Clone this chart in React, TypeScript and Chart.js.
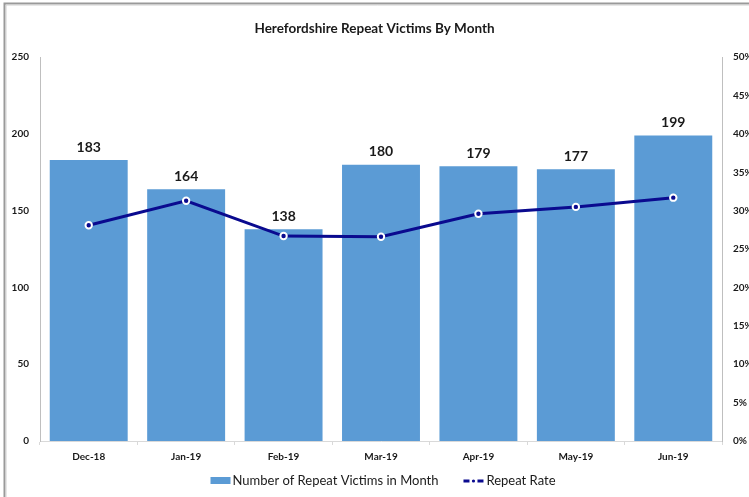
import React, { useEffect, useRef } from "react";
import { Chart, registerables } from "chart.js";

Chart.register(...registerables);

const TITLE = "Herefordshire Repeat Victims By Month";
const MONTHS = ["Dec-18", "Jan-19", "Feb-19", "Mar-19", "Apr-19", "May-19", "Jun-19"];
const VICTIMS = [183, 164, 138, 180, 179, 177, 199];
const REPEAT_RATE = [28.1, 31.3, 26.7, 26.6, 29.6, 30.5, 31.7];
const BAR_LABEL = "Number of Repeat Victims in Month";
const LINE_LABEL = "Repeat Rate";

const FONT = "Lato, 'Liberation Sans', sans-serif";
const BAR_COLOR = "#5B9BD5";
const LINE_COLOR = "#0A0A8F";
const TEXT_COLOR = "#1a1a1a";

const framePlugin = {
  id: "frame",
  beforeDraw(chart: any) {
    const ctx = chart.ctx;
    ctx.save();
    ctx.fillStyle = "#ffffff";
    ctx.fillRect(0, 0, chart.width, chart.height);
    ctx.strokeStyle = "#9a9a9a";
    ctx.lineWidth = 2;
    ctx.beginPath();
    ctx.moveTo(4.5, chart.height);
    ctx.lineTo(4.5, 3.5);
    ctx.lineTo(chart.width, 3.5);
    ctx.stroke();
    ctx.strokeStyle = "#d0d0d0";
    ctx.lineWidth = 1;
    ctx.beginPath();
    ctx.moveTo(6, chart.height);
    ctx.lineTo(6, 5);
    ctx.lineTo(chart.width, 5);
    ctx.stroke();
    ctx.restore();
  },
};

const barLabelPlugin = {
  id: "barLabels",
  afterDatasetsDraw(chart: any) {
    const ctx = chart.ctx;
    const meta = chart.getDatasetMeta(0);
    ctx.save();
    ctx.font = `bold 14px ${FONT}`;
    ctx.fillStyle = TEXT_COLOR;
    ctx.textAlign = "center";
    ctx.textBaseline = "bottom";
    meta.data.forEach((el: any, i: number) => {
      ctx.fillText(String(chart.data.datasets[0].data[i]), el.x, el.y - 6);
    });
    ctx.restore();
  },
};

const legendPlugin = {
  id: "customLegend",
  afterDraw(chart: any) {
    const ctx = chart.ctx;
    const area = chart.chartArea;
    ctx.save();
    ctx.font = `13px ${FONT}`;
    const w1 = ctx.measureText(BAR_LABEL).width;
    const w2 = ctx.measureText(LINE_LABEL).width;
    const total = 20 + 2 + w1 + 25 + 20 + 3 + w2;
    let x = (area.left + area.right) / 2 + 2 - total / 2;
    const y = 481;
    ctx.fillStyle = BAR_COLOR;
    ctx.fillRect(x, y - 4, 20, 7);
    x += 22;
    ctx.fillStyle = TEXT_COLOR;
    ctx.textBaseline = "middle";
    ctx.textAlign = "left";
    ctx.fillText(BAR_LABEL, x, y);
    x += w1 + 25;
    ctx.strokeStyle = LINE_COLOR;
    ctx.lineWidth = 3;
    ctx.beginPath();
    ctx.moveTo(x, y);
    ctx.lineTo(x + 6, y);
    ctx.moveTo(x + 14, y);
    ctx.lineTo(x + 20, y);
    ctx.stroke();
    ctx.fillStyle = LINE_COLOR;
    ctx.beginPath();
    ctx.arc(x + 10, y, 1.6, 0, Math.PI * 2);
    ctx.fill();
    x += 23;
    ctx.fillStyle = TEXT_COLOR;
    ctx.fillText(LINE_LABEL, x, y);
    ctx.restore();
  },
};

export default function App() {
  const ref = useRef<HTMLCanvasElement>(null);
  useEffect(() => {
    if (!ref.current) return;
    const chart = new Chart(ref.current, {
      type: "bar",
      data: {
        labels: MONTHS,
        datasets: [
          {
            type: "bar",
            label: BAR_LABEL,
            data: VICTIMS,
            backgroundColor: BAR_COLOR,
            borderWidth: 0,
            barPercentage: 0.8,
            categoryPercentage: 1,
            yAxisID: "y",
            order: 1,
          },
          {
            type: "line",
            label: LINE_LABEL,
            data: REPEAT_RATE,
            borderColor: LINE_COLOR,
            borderWidth: 3,
            backgroundColor: LINE_COLOR,
            pointBackgroundColor: LINE_COLOR,
            pointBorderColor: "#ffffff",
            pointBorderWidth: 2,
            pointRadius: 3.2,
            tension: 0,
            yAxisID: "y1",
            order: 0,
          } as any,
        ],
      },
      options: {
        responsive: false,
        animation: false,
        devicePixelRatio: 1,
        layout: { padding: { left: 0, right: 0, top: 0, bottom: 0 } },
        plugins: {
          legend: { display: false },
          tooltip: { enabled: false },
          title: {
            display: true,
            text: TITLE,
            color: TEXT_COLOR,
            font: { family: FONT, size: 13.5, weight: "bold" },
            padding: { top: 21, bottom: 20 },
          },
        },
        scales: {
          x: {
            offset: true,
            grid: {
              display: true,
              drawOnChartArea: false,
              offset: true,
              tickLength: 4,
              color: "#d9d9d9",
            },
            border: { color: "#d9d9d9" },
            ticks: {
              color: TEXT_COLOR,
              font: { family: FONT, size: 10, weight: "bold" },
              padding: 6,
              maxRotation: 0,
            },
            afterFit(scale: any) {
              scale.height = 56;
            },
          },
          y: {
            position: "left",
            min: 0,
            max: 250,
            grid: { display: false, drawTicks: false },
            border: { color: "#bfbfbf" },
            ticks: {
              stepSize: 50,
              color: TEXT_COLOR,
              font: { family: FONT, size: 10, weight: "bold" },
              padding: 11,
            },
            afterFit(scale: any) {
              scale.width = 40;
            },
          },
          y1: {
            position: "right",
            min: 0,
            max: 50,
            grid: { display: false, drawTicks: false },
            border: { color: "#bfbfbf" },
            ticks: {
              stepSize: 5,
              color: TEXT_COLOR,
              font: { family: FONT, size: 10, weight: "bold" },
              padding: 11,
              callback: (v: any) => `${v}%`,
            },
            afterFit(scale: any) {
              scale.width = 27;
            },
          },
        },
      } as any,
      plugins: [framePlugin, barLabelPlugin, legendPlugin],
    });
    return () => chart.destroy();
  }, []);

  return (
    <div style={{ position: "fixed", left: 0, top: 0, width: 749, height: 497, overflow: "hidden", background: "#fff" }}>
      <canvas ref={ref} width={749} height={497} style={{ width: 749, height: 497, display: "block" }} />
    </div>
  );
}
